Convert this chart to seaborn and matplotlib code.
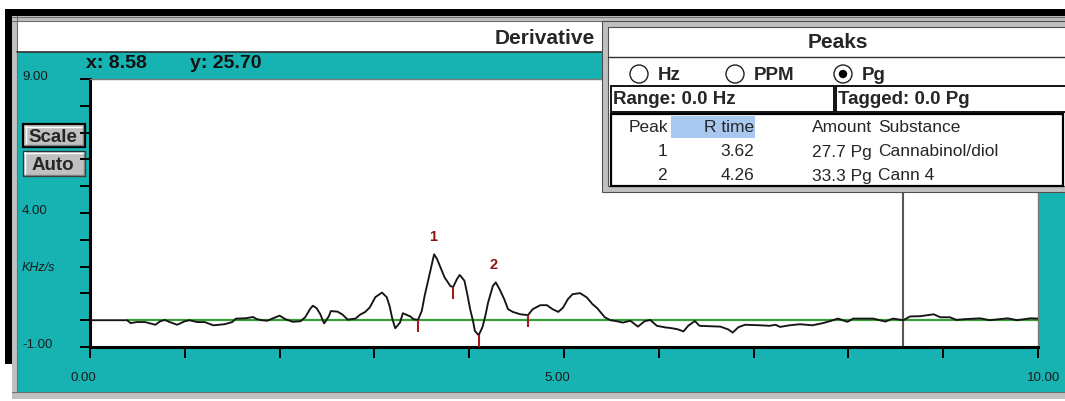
import numpy as np
import pandas as pd
import matplotlib
matplotlib.use("Agg")
import matplotlib.pyplot as plt
import matplotlib.transforms as mtransforms
from matplotlib.patches import Rectangle, Circle
import seaborn as sns

# ---- data -------------------------------------------------------------
# derivative trace: retention time (min) vs. signal (KHz/s)
rt = [0.00, 0.39, 0.43, 0.49, 0.58, 0.69, 0.74, 0.79, 0.84, 0.92,
      1.00, 1.05, 1.13, 1.21, 1.30, 1.42, 1.50, 1.54, 1.64, 1.72,
      1.76, 1.81, 1.87, 1.93, 2.00, 2.06, 2.14, 2.22, 2.27, 2.32,
      2.35, 2.39, 2.43, 2.45, 2.47, 2.52, 2.54, 2.61, 2.66, 2.72,
      2.80, 2.85, 2.90, 2.95, 3.01, 3.08, 3.13, 3.16, 3.19, 3.22,
      3.27, 3.30, 3.38, 3.41, 3.46, 3.50, 3.53, 3.57, 3.61, 3.63,
      3.66, 3.69, 3.74, 3.80, 3.83, 3.87, 3.90, 3.95, 3.98, 4.01,
      4.04, 4.06, 4.10, 4.14, 4.17, 4.20, 4.25, 4.28, 4.32, 4.37,
      4.41, 4.46, 4.54, 4.62, 4.67, 4.75, 4.82, 4.88, 4.94, 4.99,
      5.04, 5.09, 5.17, 5.24, 5.30, 5.35, 5.43, 5.49, 5.56, 5.62,
      5.70, 5.78, 5.85, 5.91, 5.98, 6.07, 6.14, 6.20, 6.26, 6.31,
      6.38, 6.43, 6.65, 6.73, 6.78, 6.84, 6.91, 7.07, 7.17, 7.23,
      7.28, 7.38, 7.49, 7.62, 7.73, 7.81, 7.89, 7.99, 8.05, 8.26,
      8.39, 8.47, 8.58, 8.65, 8.76, 8.90, 8.97, 9.07, 9.14, 9.23,
      9.39, 9.49, 9.68, 9.78, 9.92, 10.00]
deriv = [0.00, 0.00, -0.11, -0.07, -0.07, -0.17, -0.04, 0.01, -0.07, -0.17,
         -0.04, 0.00, -0.07, -0.07, -0.19, -0.15, -0.07, 0.06, 0.07, 0.12,
         0.04, 0.00, -0.02, 0.07, 0.17, 0.04, -0.06, -0.04, 0.11, 0.41,
         0.54, 0.45, 0.22, 0.04, -0.12, 0.15, 0.34, 0.32, 0.22, 0.02,
         0.06, 0.21, 0.30, 0.47, 0.86, 1.03, 0.86, 0.53, 0.04, -0.30,
         -0.09, 0.26, 0.14, 0.04, 0.01, 0.35, 0.91, 1.53, 2.16, 2.46,
         2.29, 2.03, 1.60, 1.28, 1.23, 1.53, 1.69, 1.47, 0.97, 0.41,
         -0.03, -0.40, -0.56, -0.26, 0.16, 0.67, 1.28, 1.41, 1.16, 0.78,
         0.41, 0.31, 0.22, 0.19, 0.41, 0.56, 0.56, 0.41, 0.31, 0.47,
         0.78, 0.97, 1.01, 0.85, 0.60, 0.45, 0.11, 0.00, -0.04, -0.09,
         -0.02, -0.24, -0.04, 0.01, -0.21, -0.27, -0.30, -0.34, -0.42, -0.21,
         -0.03, -0.21, -0.24, -0.34, -0.46, -0.26, -0.17, -0.19, -0.21, -0.17,
         -0.25, -0.19, -0.15, -0.19, -0.11, -0.03, 0.06, -0.06, 0.06, 0.06,
         -0.05, 0.06, 0.00, 0.14, 0.15, 0.22, 0.11, 0.11, 0.01, 0.04,
         0.07, 0.00, 0.07, 0.00, 0.07, 0.06]

baseline_x = [0.39, 10.0]
baseline_y = [0.0, 0.0]

# integration boundaries (start / split / end) and the detected peaks
peak_bounds = [3.46, 3.83, 4.10, 4.62]
peak_ids = ["1", "2"]
peak_rtimes = [3.62, 4.26]
peak_amounts = [27.7, 33.3]
peak_substances = ["Cannabinol/diol", "Cann 4"]

cursor_x = 8.58
cursor_y = 25.70

x_ticks = list(range(0, 11))
y_ticks = list(range(-1, 10))
x_tick_labels = {0: "0.00", 5: "5.00", 10: "10.00"}
y_tick_labels = {9: "9.00", 4: "4.00", -1: "-1.00"}
y_unit = "KHz/s"

# ---- figure -----------------------------------------------------------
sns.set_style("white")
plt.rcParams["font.family"] = ["Liberation Sans", "DejaVu Sans"]

W, H, DPI = 1065, 402, 100
fig = plt.figure(figsize=(W / DPI, H / DPI), dpi=DPI)
fig.patch.set_facecolor("white")

# screen-style coordinates: pixels from the top-left corner
T = mtransforms.Affine2D().scale(1 / DPI, -1 / DPI).translate(0, H / DPI) + fig.dpi_scale_trans

CYAN = "#17b3b3"
GRAY = "#c0c0c0"


def box(x0, y0, x1, y1, fc="none", ec="none", lw=0.0, z=-5):
    r = Rectangle((x0, y0), x1 - x0, y1 - y0, transform=T, facecolor=fc,
                  edgecolor=ec, linewidth=lw, zorder=z)
    fig.add_artist(r)
    return r


def hline(x0, x1, y, color, lw, z=-4):
    fig.add_artist(plt.Line2D([x0, x1], [y, y], transform=T, color=color, lw=lw, zorder=z))


def vline(x, y0, y1, color, lw, z=-4):
    fig.add_artist(plt.Line2D([x, x], [y0, y1], transform=T, color=color, lw=lw, zorder=z))


def label(x, y, s, z=-3, **kw):
    kw.setdefault("va", "center")
    fig.text(x, y, s, transform=T, zorder=z, **kw)


# window chrome
box(5, 10, W, 17, fc="black")
box(5, 10, 12, 365, fc="black")
box(12, 17, W, 22, fc=GRAY)
box(12, 17, 17, 400, fc=GRAY)
box(12, 393, W, 400, fc=GRAY)
hline(12, W, 17.5, "#707070", 0.8)
hline(12, W, 22, "#707070", 0.8)
hline(12, W, 393, "#707070", 0.8)
vline(17, 17, 393, "#707070", 0.8)
box(17, 22, W, 52, fc="white")
hline(17, W, 52.5, "#303030", 1.2)
box(17, 53, W, 393, fc=CYAN)

label(595, 38, "Derivative", ha="right", fontsize=15, fontweight="bold")
label(86, 63, f"x: {cursor_x:.2f}", ha="left", fontsize=14, fontweight="bold", color="#111111")
label(190, 63, f"y: {cursor_y:.2f}", ha="left", fontsize=14, fontweight="bold", color="#111111")

# Scale / Auto buttons
box(23, 125, 85, 148, fc=GRAY, ec="black", lw=1.6, z=-3)
hline(25, 83, 127.5, "white", 1.0, z=-2)
vline(25.5, 127, 146, "white", 1.0, z=-2)
hline(25, 83, 145.5, "#808080", 1.0, z=-2)
vline(82.5, 127, 146, "#808080", 1.0, z=-2)
label(53, 137, "Scale", ha="center", fontsize=13.5, fontweight="bold", z=-1)
box(23, 152, 85, 177, fc=GRAY, ec="#303030", lw=0.9, z=-3)
hline(24, 84, 153.5, "white", 1.0, z=-2)
vline(24.5, 153, 176, "white", 1.0, z=-2)
hline(24, 84, 175.5, "#808080", 1.0, z=-2)
vline(83.5, 153, 176, "#808080", 1.0, z=-2)
label(53, 165, "Auto", ha="center", fontsize=13.5, fontweight="bold", z=-1)

# ---- plot area ----------------------------------------------------------
ax = fig.add_axes([90 / W, (H - 348) / H, (1038 - 90) / W, (348 - 80) / H])
ax.set_facecolor("white")

df = pd.DataFrame({"rt": rt, "deriv": deriv})
sns.lineplot(data=df, x="rt", y="deriv", ax=ax, color="#151515", lw=1.35,
             sort=False, estimator=None, zorder=4)
sns.lineplot(x=baseline_x, y=baseline_y, ax=ax, color="#3a9e3a", lw=1.6, zorder=3)

ax.axvline(cursor_x, color="#555555", lw=1.5, zorder=2)

# integration boundary ticks hang below the trace
rt_arr, d_arr = np.array(rt), np.array(deriv)
tick_top = np.interp(peak_bounds, rt_arr, d_arr)
ax.vlines(peak_bounds, tick_top - 0.45, tick_top, color="#a31a1a", lw=1.5, zorder=5)

# peak numbers above each apex
for i, pid in enumerate(peak_ids):
    lo, hi = peak_bounds[[0, 2][i]], peak_bounds[[2, 3][i]]
    seg = (rt_arr >= lo) & (rt_arr <= hi)
    apex = d_arr[seg].max()
    ax.text(peak_rtimes[i], apex + 0.7, pid, ha="center", va="center",
            color="#8c1414", fontsize=10.5, fontweight="bold", zorder=6)

ax.set_xlim(0, 10)
ax.set_ylim(-1, 9)
ax.set_xlabel("")
ax.set_ylabel("")
ax.set_xticks(x_ticks)
ax.set_yticks(y_ticks)
ax.set_xticklabels([])
ax.set_yticklabels([])
ax.tick_params(axis="x", direction="out", length=8, width=1.4, color="black", bottom=True)
ax.tick_params(axis="y", direction="out", length=7, width=1.4, color="black", left=True)
for side in ("left", "bottom"):
    ax.spines[side].set_color("black")
    ax.spines[side].set_linewidth(2.2)
for side in ("top", "right"):
    ax.spines[side].set_color("#7a7a7a")
    ax.spines[side].set_linewidth(1.0)

ybl = mtransforms.blended_transform_factory(T, ax.transData)
for v, s in y_tick_labels.items():
    ax.annotate(s, xy=(22, v), xycoords=ybl, xytext=(0, 3), textcoords="offset pixels",
                ha="left", va="center", fontsize=9.5, color="#1a1a1a", annotation_clip=False)
ax.annotate(y_unit, xy=(22, 2), xycoords=ybl, xytext=(0, 0), textcoords="offset pixels",
            ha="left", va="center", fontsize=9, style="italic", color="#1a1a1a",
            annotation_clip=False)

xbl = mtransforms.blended_transform_factory(ax.transData, T)
x_offsets = {0: -7, 5: -7, 10: 6}
for v, s in x_tick_labels.items():
    ax.annotate(s, xy=(v, 378), xycoords=xbl, xytext=(x_offsets[v], 0), textcoords="offset pixels",
                ha="center", va="center", fontsize=9.5, color="#1a1a1a", annotation_clip=False)

# ---- Peaks window -------------------------------------------------------
PZ = 10
box(602, 22, W + 2, 193, fc=GRAY, ec="#505050", lw=0.8, z=PZ)
box(608, 28, W + 2, 187, fc="white", ec="#505050", lw=0.8, z=PZ + 1)
label(838, 43, "Peaks", ha="center", fontsize=15, fontweight="bold", z=PZ + 3)
hline(608, W, 58, "#303030", 1.0, z=PZ + 2)

radio = [("Hz", 639, False), ("PPM", 735, False), ("Pg", 843, True)]
for name, cx, on in radio:
    fig.add_artist(Circle((cx, 75), 9, transform=T, facecolor="white",
                          edgecolor="#202020", lw=1.0, zorder=PZ + 2))
    if on:
        fig.add_artist(Circle((cx, 75), 4.2, transform=T, facecolor="black",
                              edgecolor="none", zorder=PZ + 3))
    label(cx + 19, 76, name, ha="left", fontsize=13.5, fontweight="bold", z=PZ + 3)

box(611, 87, 834, 113, fc="white", ec="black", lw=1.3, z=PZ + 2)
box(836, 87, W + 2, 113, fc="white", ec="black", lw=1.3, z=PZ + 2)
label(613, 100, "Range: 0.0 Hz", ha="left", fontsize=13.5, fontweight="bold", z=PZ + 3)
label(838, 100, "Tagged: 0.0 Pg", ha="left", fontsize=13.5, fontweight="bold", z=PZ + 3)

box(611, 115, W - 2, 187, fc="white", ec="black", lw=1.6, z=PZ + 2)
box(671, 117, 755, 139, fc="#a8c8f0", z=PZ + 3)
hdr_y = 128
label(668, hdr_y, "Peak", ha="right", fontsize=12.5, z=PZ + 4)
label(754, hdr_y, "R time", ha="right", fontsize=12.5, z=PZ + 4)
label(812, hdr_y, "Amount", ha="left", fontsize=12.5, z=PZ + 4)
label(878, hdr_y, "Substance", ha="left", fontsize=12.5, z=PZ + 4)
for i, pid in enumerate(peak_ids):
    ry = 152 + 24 * i
    label(667, ry, pid, ha="right", fontsize=12.5, z=PZ + 4)
    label(754, ry, f"{peak_rtimes[i]:.2f}", ha="right", fontsize=12.5, z=PZ + 4)
    label(812, ry, f"{peak_amounts[i]:.1f} Pg", ha="left", fontsize=12.5, z=PZ + 4)
    label(878, ry, peak_substances[i], ha="left", fontsize=12.5, z=PZ + 4)

fig.savefig("out.png", dpi=DPI)
